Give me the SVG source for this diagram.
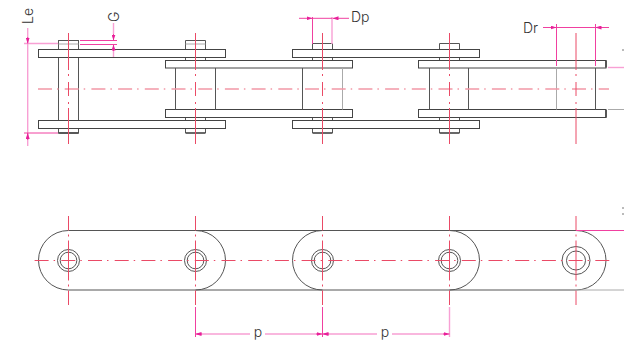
<svg xmlns="http://www.w3.org/2000/svg" width="624" height="344" viewBox="0 0 624 344">
<defs>
<style>
.o{fill:#fff;stroke:#444;stroke-width:1}
.l{fill:none;stroke:#555;stroke-width:1}
.h{fill:none;stroke:#444;stroke-width:1.6}
.g{fill:none;stroke:#aaa;stroke-width:1}
.c{fill:none;stroke:#ea4a66;stroke-width:1}
.cp{fill:none;stroke:#f298a6;stroke-width:1.4}
.cm{stroke-dasharray:14 5 1.5 6.2}
.d{fill:none;stroke:#f040a0;stroke-width:1}
.dp{fill:none;stroke:#f8a0d4;stroke-width:1.4}
.t{font-family:Inter,"Liberation Sans",sans-serif;font-size:14px;font-weight:300;fill:#333}
</style>
<marker id="a" viewBox="0 0 6 4" refX="6" refY="2" markerWidth="6" markerHeight="4" markerUnits="userSpaceOnUse" orient="auto-start-reverse"><path d="M0 0L6 2L0 4Z" fill="#e8209a"/></marker>
<g id="v"><path class="c" d="M0 -56V-19M0 -15V-13M0 -7V7M0 13V15M0 19V55"/></g>
<g id="vb"><path class="c" d="M0 -44.500V-30M0 -26V-24M0 -20V20M0 24V26M0 30V44.500"/></g>
</defs>
<g id="side-view">
<g id="pin-1"><rect class="l" x="58.500" y="40.500" width="20" height="92.500"/><path class="g" d="M58.500 44H78.500"/><path class="h" d="M58.500 133H78.500"/></g>
<g id="pin-2"><path class="l" d="M185.500 40.500H205.500V60.500M185.500 40.500V60.500M185.500 117.500V133M205.500 117.500V133"/><path class="g" d="M185.500 44H205.500"/><path class="h" d="M185.500 133H205.500"/></g>
<g id="pin-3"><path class="l" d="M312.500 43.500H332.500V60.500M312.500 43.500V60.500M312.500 117.500V133M332.500 117.500V133"/><path class="h" d="M312.500 133H332.500"/></g>
<g id="pin-4"><path class="l" d="M439.500 43.500H459.500V60.500M439.500 43.500V60.500M439.500 117.500V133M459.500 117.500V133"/><path class="h" d="M439.500 133H459.500"/></g>
<g id="outer-link-1"><rect class="o" x="38.500" y="49.500" width="187" height="8"/><rect class="o" x="38.500" y="120.500" width="187" height="8"/></g>
<g id="outer-link-2"><rect class="o" x="292.500" y="49.500" width="187" height="8"/><rect class="o" x="292.500" y="120.500" width="187" height="8"/></g>
<g id="inner-link-1"><rect class="o" x="165.500" y="60.500" width="187" height="7.500"/><rect class="o" x="165.500" y="109.500" width="187" height="8"/>
<path class="l" d="M175.500 68V109.500M215.500 68V109.500M302.500 68V109.500"/><path class="g" d="M342.500 68V109.500"/></g>
<g id="inner-link-2"><rect class="o" x="418.500" y="60.500" width="187.500" height="7.500"/><rect class="o" x="418.500" y="109.500" width="187.500" height="8"/>
<path class="l" d="M429.500 68V109.500M468.500 68V109.500M595.500 68V109.500"/><path class="g" d="M556.500 68V109.500"/><path class="h" d="M606 60.500V67.500M606 110V117.500"/></g>
</g>
<g id="plan-view">
<g id="plate-outline"><path class="l" d="M68.500 230.500H576A30 29.750 0 0 1 576 290H68.500A30 29.750 0 0 1 68.500 230.500Z"/>
<path class="l" d="M195.500 230.500A30 29.750 0 0 1 195.500 290M322.500 230.500A30 29.750 0 0 0 322.500 290M449.500 230.500A30 29.750 0 0 1 449.500 290"/></g>
<g id="hole-1"><circle class="l" cx="68.500" cy="260.500" r="11"/><circle class="l" cx="68.500" cy="260.500" r="8.300"/></g>
<g id="hole-2"><circle class="l" cx="195.500" cy="260.500" r="11"/><circle class="l" cx="195.500" cy="260.500" r="8.300"/></g>
<g id="hole-3"><circle class="l" cx="322.500" cy="260.500" r="11"/><circle class="l" cx="322.500" cy="260.500" r="8.300"/></g>
<g id="hole-4"><circle class="l" cx="449.500" cy="260.500" r="11"/><circle class="l" cx="449.500" cy="260.500" r="8.300"/></g>
<g id="hole-5"><circle class="l" cx="576" cy="260.500" r="14"/><circle class="l" cx="576" cy="260.500" r="9.500"/></g>
</g>
<g id="connectors">
<path class="cp cm" d="M38 89H609"/>
<use href="#v" x="68.500" y="89"/><use href="#v" x="195.500" y="89"/><use href="#v" x="322.500" y="89"/><use href="#v" x="449.500" y="89"/><use href="#v" x="576" y="89"/>
<path class="c cm" d="M34.600 260.500H612"/>
<use href="#vb" x="68.500" y="260.500"/><use href="#vb" x="195.500" y="260.500"/><use href="#vb" x="322.500" y="260.500"/><use href="#vb" x="449.500" y="260.500"/><use href="#vb" x="576" y="260.500"/>
<path class="dp" d="M24 43.500H58M27.700 28V146"/><path class="d" d="M24 133H58"/>
<path class="d" d="M27.700 37V43.500" marker-end="url(#a)"/><path class="d" d="M27.700 140V133" marker-end="url(#a)"/>
<path class="d" d="M80 40.500H117M80 44.500H117"/><path class="dp" d="M113.500 23V34M113.500 50V57"/><path class="d" d="M113.500 34V40.500" marker-end="url(#a)"/><path class="d" d="M113.500 51V44.500" marker-end="url(#a)"/>
<path class="d" d="M312.500 17V44"/><path class="dp" d="M332 17V44"/><path class="d" d="M312.500 18.300H332"/><path class="d" d="M299 18.300H312.500" marker-end="url(#a)"/><path class="d" d="M349 18.300H332.500" marker-end="url(#a)"/>
<path class="d" d="M556.500 24V66M595.500 24V66M556.500 27.500H595.500"/><path class="d" d="M543 27.500H556.500" marker-end="url(#a)"/><path class="d" d="M609 27.500H595.500" marker-end="url(#a)"/>
<path class="dp" d="M608 67.500H624"/><path class="g" d="M608 109.500H624"/><path class="d" d="M576 230.500H624"/><path class="g" d="M576 290H624"/>
<path class="d" d="M195.500 307V337"/><path class="d" d="M322.500 307V337"/><path class="dp" d="M449.500 307V337"/>
<path class="dp" d="M250 334H197M265 334H320M377 334H324M392 334H447"/>
<path class="d" d="M202 334H195.500" marker-end="url(#a)"/><path class="d" d="M316 334H322.500" marker-end="url(#a)"/>
<path class="d" d="M329 334H322.500" marker-end="url(#a)"/><path class="d" d="M443 334H449.500" marker-end="url(#a)"/>
<path stroke="#777" fill="none" d="M622 50H624M622 208H624M622 214H624"/>
</g>
<g id="labels">
<text class="t" transform="translate(33 24) rotate(-90)">Le</text>
<text class="t" transform="translate(119 22) rotate(-90)">G</text>
<text class="t" x="351" y="22">Dp</text>
<text class="t" x="523" y="32.700">Dr</text>
<text class="t" x="258" y="337" text-anchor="middle">p</text>
<text class="t" x="385" y="337" text-anchor="middle">p</text>
</g>
</svg>
